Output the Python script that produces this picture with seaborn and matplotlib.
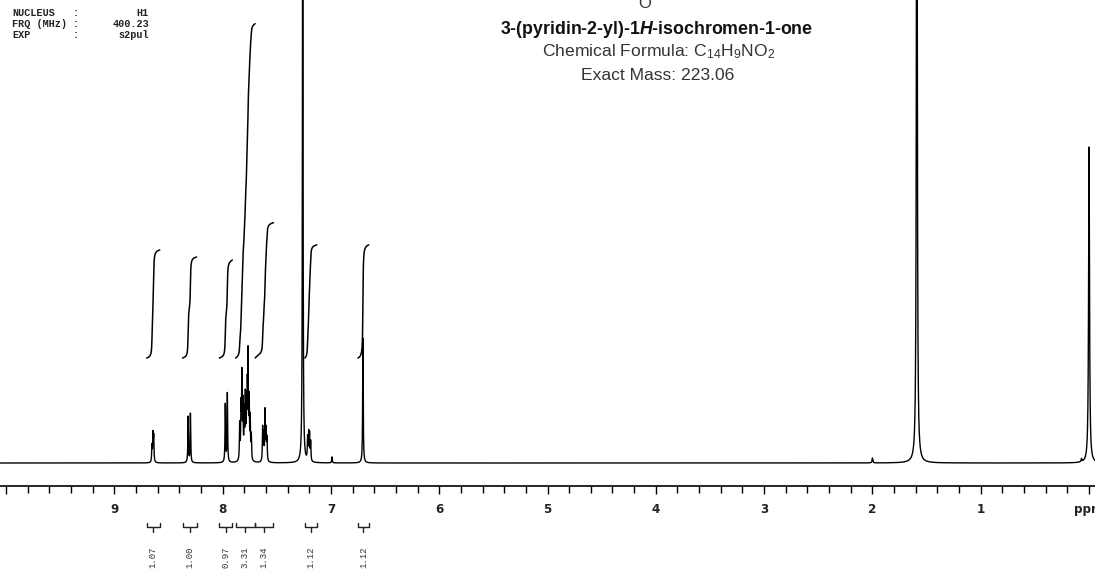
import numpy as np
import pandas as pd
import matplotlib
matplotlib.use("Agg")
import matplotlib.pyplot as plt
import seaborn as sns
from matplotlib.ticker import FixedLocator, MultipleLocator

# ---------------- data ----------------
# compound resonances (ppm, relative intensity)
peak_ppm = [8.652, 8.643, 8.636,
            8.318, 8.297,
            7.975, 7.956,
            7.842, 7.830, 7.822, 7.812, 7.800, 7.790, 7.780, 7.772, 7.765, 7.755, 7.745, 7.735,
            7.630, 7.620, 7.608, 7.598, 7.590,
            7.215, 7.205, 7.197, 7.187,
            6.704]
peak_height = [16, 27, 25,
               46, 49,
               58, 69,
               36, 50, 82, 54, 46, 60, 52, 62, 98, 56, 40, 24,
               34, 26, 50, 30, 22,
               22, 26, 25, 19,
               125]
peak_hwhm = 0.003

# solvent / reference / impurity signals
other_ppm = [7.26, 6.99, 2.00, 1.59, 0.07, 0.00]
other_height = [700, 6, 5, 1000, 3, 316]
other_hwhm = [0.003, 0.003, 0.004, 0.004, 0.004, 0.005]

# integration regions
int_start = [8.70, 8.37, 8.03, 7.88, 7.70, 7.24, 6.75]
int_end = [8.58, 8.24, 7.91, 7.70, 7.53, 7.13, 6.65]
int_value = [1.07, 1.00, 0.97, 3.31, 1.34, 1.12, 1.12]

tick_values = [0, 1, 2, 3, 4, 5, 6, 7, 8, 9]
tick_labels = ["ppm", "1", "2", "3", "4", "5", "6", "7", "8", "9"]

header_keys = ["NUCLEUS", "FRQ (MHz)", "EXP"]
header_values = ["H1", "400.23", "s2pul"]

title_name = r"3-(pyridin-2-yl)-1$\mathbfit{H}$-isochromen-1-one"
title_formula = r"Chemical Formula: C$_{14}$H$_{9}$NO$_{2}$"
title_mass = "Exact Mass: 223.06"

# ---------------- style ----------------
sns.set_theme(style="white")
plt.rcParams["font.family"] = ["Liberation Sans", "DejaVu Sans"]
plt.rcParams["mathtext.fontset"] = "custom"
plt.rcParams["mathtext.rm"] = "Liberation Sans"
plt.rcParams["mathtext.it"] = "Liberation Sans:italic"
plt.rcParams["mathtext.bf"] = "Liberation Sans:bold"
try:
    plt.rcParams["mathtext.bfit"] = "Liberation Sans:italic:bold"
except KeyError:
    title_name = r"3-(pyridin-2-yl)-1$\mathit{H}$-isochromen-1-one"
plt.rcParams["mathtext.default"] = "regular"

W, H = 1095, 571
fig = plt.figure(figsize=(W / 100, H / 100), dpi=100)
ax = fig.add_axes([0, 0, 1, 1])
ax.set_facecolor("white")

# ---------------- spectrum ----------------
ppm = np.linspace(10.06, -0.06, 26000)


def lorentz_sum(x, centers, heights, widths):
    y = np.zeros_like(x)
    for c, h, w in zip(centers, heights, widths):
        y += h * w ** 2 / (w ** 2 + (x - c) ** 2)
    return y


compound = lorentz_sum(ppm, peak_ppm, peak_height, [peak_hwhm] * len(peak_ppm))
others = lorentz_sum(ppm, other_ppm, other_height, other_hwhm)
spec = compound + others

df = pd.DataFrame({"ppm": ppm, "intensity": spec})
sns.lineplot(data=df, x="ppm", y="intensity", ax=ax, color="black",
             linewidth=1.0, estimator=None, sort=False)

# integral curves
int_offset = 105
int_scale = 101
for s, e, v in zip(int_start, int_end, int_value):
    m = (ppm <= s) & (ppm >= e)
    xs = ppm[m]
    c = np.cumsum(compound[m])
    c = c - c[0]
    c = c / c[-1] * v * int_scale + int_offset
    ax.plot(xs, c, color="black", linewidth=1.1)

# integration brackets and values
for s, e, v in zip(int_start, int_end, int_value):
    mid = (s + e) / 2
    ax.plot([s, s, e, e], [-60, -64, -64, -60], color="#222222", lw=1.0, clip_on=False)
    ax.plot([mid, mid], [-64, -69], color="#222222", lw=1.0, clip_on=False)
    ax.text(mid, -94, f"{v:.2f}", rotation=90, ha="center", va="center",
            family="Liberation Mono", fontsize=6.5, color="#333333")

# ---------------- axes ----------------
ax.set_xlim(10.055, -0.055)
ax.set_ylim(-108, 463)
for sp in ["top", "left", "right"]:
    ax.spines[sp].set_visible(False)
ax.spines["bottom"].set_position(("data", -23))
ax.spines["bottom"].set_color("black")
ax.spines["bottom"].set_linewidth(1.2)
ax.xaxis.set_major_locator(FixedLocator(tick_values + [10]))
ax.set_xticklabels(tick_labels + [""])
ax.xaxis.set_minor_locator(MultipleLocator(0.2))
ax.tick_params(axis="x", which="major", direction="out", length=6, width=1,
               color="black", pad=6, labelsize=9.5, bottom=True)
ax.tick_params(axis="x", which="minor", direction="out", length=5, width=1,
               color="black", bottom=True)
for lab in ax.get_xticklabels():
    lab.set_fontweight("bold")
    lab.set_family("DejaVu Sans")
    lab.set_fontstretch("condensed")
    lab.set_color("#222222")
ax.set_yticks([])
ax.set_xlabel("")
ax.set_ylabel("")
ax.grid(False)

# ---------------- header text ----------------
for i, (k, v) in enumerate(zip(header_keys, header_values)):
    yy = 1 - (13 + 11 * i) / H
    fig.text(12 / W, yy, k, family="Liberation Mono", fontweight="bold",
             fontsize=7.3, color="#222222", va="center", ha="left")
    fig.text(76 / W, yy, ":", family="Liberation Mono", fontweight="bold",
             fontsize=7.3, color="#222222", va="center", ha="center")
    fig.text(149 / W, yy, v, family="Liberation Mono", fontweight="bold",
             fontsize=7.3, color="#222222", va="center", ha="right")

# partial structure (oxygen of carbonyl cut by the top edge)
fig.text(645 / W, 1 - 8 / H, "O", fontsize=12, color="#333333",
         ha="center", va="baseline")

fig.text(657 / W, 1 - 30 / H, title_name, fontsize=12.8, fontweight="bold",
         color="#111111", ha="center", va="center")
fig.text(659 / W, 1 - 52 / H, title_formula, fontsize=12.6,
         color="#333333", ha="center", va="center")
fig.text(658 / W, 1 - 75 / H, title_mass, fontsize=12.6,
         color="#333333", ha="center", va="center")

fig.savefig("out.png", dpi=100, facecolor="white")
